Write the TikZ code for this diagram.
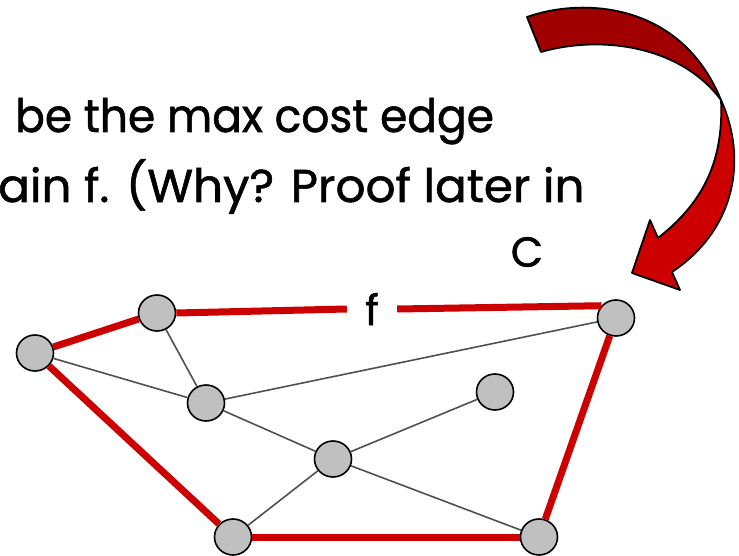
\documentclass[tikz,border=0pt]{standalone}
\usepackage{fontspec}
\setmainfont{Poppins}[FakeBold=1.2]
\usetikzlibrary{shapes.geometric}
\definecolor{treered}{HTML}{CC0000}
\definecolor{arrowdark}{HTML}{A00000}
\definecolor{nodegray}{HTML}{C0C0C0}
\definecolor{edgegray}{HTML}{505050}
\tikzset{
  vert/.style={ellipse, draw=black, line width=1.6pt, fill=nodegray, minimum width=37pt, minimum height=36pt, inner sep=0pt},
  treeedge/.style={draw=treered, line width=7pt},
  graphedge/.style={draw=edgegray, line width=1.6pt},
  bigtext/.style={font=\fontsize{46}{50}\selectfont, inner sep=0pt},
  arrowpart/.style={draw=black, line width=1.8pt, line join=round}
}
\begin{document}
\begin{tikzpicture}[x=1pt,y=-1pt]
\useasboundingbox (0,0) rectangle (739,556);
% text
\node[bigtext, anchor=base west] (line1) at (15,132) {\scalebox{0.955}[1]{be the max cost edge}};
\node[bigtext, anchor=base west] (line2) at (-2,202) {\scalebox{1.02}[1]{ain f. (Why? Proof later in}};
\node[bigtext, font=\fontsize{42}{46}\selectfont] (clabel) at (527,252) {C};
% nodes
\node[vert] (A) at (35,353) {};
\node[vert] (B) at (157,313) {};
\node[vert] (C) at (616,318) {};
\node[vert] (D) at (206,403) {};
\node[vert] (E) at (495,392) {};
\node[vert] (F) at (333,459) {};
\node[vert] (G) at (233,537) {};
\node[vert] (H) at (539,537) {};
\node[bigtext, font=\fontsize{42}{46}\selectfont, minimum width=50pt] (f) at (372,309) {f};
% thin edges
\draw[graphedge] (B) -- (D);
\draw[graphedge] (A) -- (D);
\draw[graphedge] (D) -- (C);
\draw[graphedge] (D) -- (F);
\draw[graphedge] (F) -- (E);
\draw[graphedge] (F) -- (G);
\draw[graphedge] (F) -- (H);
% tree edges
\draw[treeedge] (A) -- (B);
\draw[treeedge] (B.east) -- (f.west);
\draw[treeedge] (f.east) -- (C.140);
\draw[treeedge] (C) -- (H);
\draw[treeedge] (H) -- (G);
\draw[treeedge] (G) -- (A);
% curved arrow
\fill[arrowdark, arrowpart] (527,17) .. controls (580,-2) and (680,0) .. (721,100)
  .. controls (680,45) and (600,35) .. (541,52) -- cycle;
\fill[treered, arrowpart] (721,100) .. controls (748,160) and (735,230) .. (672,272)
  -- (680,290) -- (632,273) -- (650,220) -- (658,238)
  .. controls (700,205) and (724,165) .. (721,100) -- cycle;
\end{tikzpicture}
\end{document}
